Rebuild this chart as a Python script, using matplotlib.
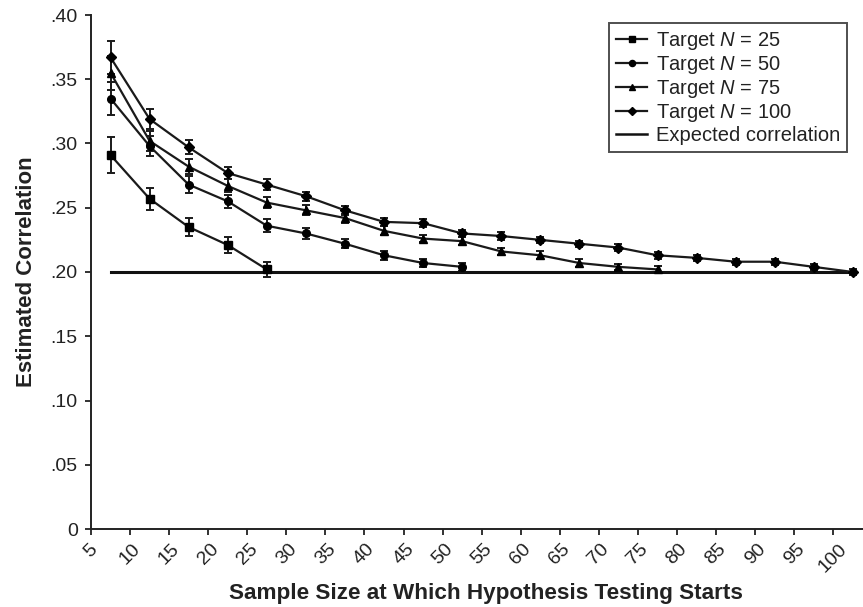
import matplotlib
matplotlib.use("Agg")
import matplotlib.pyplot as plt
from matplotlib.lines import Line2D
import matplotlib.transforms as mtransforms
import numpy as np

plt.rcParams['font.family'] = ['Liberation Sans', 'DejaVu Sans']
plt.rcParams['mathtext.fontset'] = 'custom'
plt.rcParams['mathtext.it'] = 'Liberation Sans:italic'
plt.rcParams['mathtext.rm'] = 'Liberation Sans'

# ---- data ----
categories = ["5", "10", "15", "20", "25", "30", "35", "40", "45", "50",
              "55", "60", "65", "70", "75", "80", "85", "90", "95", "100"]

n25 = [0.291, 0.257, 0.235, 0.221, 0.202]
n25_err = [0.014, 0.0087, 0.007, 0.006, 0.006]

n50 = [0.335, 0.298, 0.268, 0.255, 0.236, 0.230, 0.222, 0.213, 0.207, 0.204]
n50_err = [0.013, 0.0075, 0.0065, 0.0052, 0.0052, 0.004, 0.0035, 0.0035, 0.003, 0.003]

n75 = [0.355, 0.302, 0.282, 0.267, 0.254, 0.248, 0.242, 0.232, 0.226, 0.224,
       0.216, 0.213, 0.207, 0.204, 0.202]
n75_err = [0.013, 0.0075, 0.006, 0.005, 0.0045, 0.004, 0.0035, 0.0035, 0.003, 0.003,
           0.003, 0.003, 0.003, 0.0025, 0.0025]

n100 = [0.367, 0.319, 0.297, 0.277, 0.268, 0.259, 0.248, 0.239, 0.238, 0.230,
        0.228, 0.225, 0.222, 0.219, 0.213, 0.211, 0.208, 0.208, 0.204, 0.200]
n100_err = [0.013, 0.0075, 0.0055, 0.0045, 0.004, 0.0035, 0.0035, 0.003, 0.003, 0.003,
            0.003, 0.0025, 0.0025, 0.0025, 0.0025, 0.0025, 0.0025, 0.0025, 0.0025, 0.0025]

expected = 0.20

series = [
    ("Target $\\mathit{N}$ = 25", n25, n25_err, 's'),
    ("Target $\\mathit{N}$ = 50", n50, n50_err, 'o'),
    ("Target $\\mathit{N}$ = 75", n75, n75_err, '^'),
    ("Target $\\mathit{N}$ = 100", n100, n100_err, 'D'),
]

W, H = 863, 607
fig = plt.figure(figsize=(W / 100, H / 100), dpi=100)
ax = fig.add_axes([91 / W, 1 - 529 / H, 1 - 91 / W, (529 - 15) / H])

line_color = '#1a1a1a'
sizes = {'s': 6, 'o': 5.5, '^': 6, 'D': 4.8}
handles = []
for label, vals, errs, mk in series:
    x = np.arange(len(vals))
    ms = sizes[mk]
    ax.errorbar(x, vals, yerr=errs, fmt='-', marker=mk, color=line_color,
                mfc='black', mec='black', ms=ms, lw=1.6, elinewidth=1.4,
                capsize=3.2, capthick=1.4)
    handles.append(Line2D([], [], color=line_color, lw=1.6, marker=mk,
                          mfc='black', mec='black', ms=ms * 0.8, label=label))

xe = np.arange(len(categories))
ax.plot(xe, [expected] * len(categories), color='#111111', lw=2.2)
handles.append(Line2D([], [], color='#111111', lw=1.8, label='Expected correlation'))

ax.set_ylim(0, 0.40)
ax.set_xlim(-0.5, -0.5 + (W - 91) / 39.07)
yt = np.arange(0, 0.401, 0.05)
ax.set_yticks(yt)
ax.set_yticklabels(['0' if v == 0 else ('%.2f' % v)[1:] for v in yt])
ax.set_xticks(np.arange(len(categories)) - 0.5)
ax.set_xticklabels(categories, rotation=45, ha='center')
offset = mtransforms.ScaledTranslation(5 / 100, 0, fig.dpi_scale_trans)
for lbl in ax.get_xticklabels():
    lbl.set_transform(lbl.get_transform() + offset)

for s in ('top', 'right'):
    ax.spines[s].set_visible(False)
for s in ('left', 'bottom'):
    ax.spines[s].set_linewidth(1.4)
    ax.spines[s].set_color('#222222')
ax.tick_params(axis='both', direction='out', length=4.5, width=1.3,
               color='#222222', labelsize=14, labelcolor='#222222')
ax.tick_params(axis='x', pad=4)
ax.tick_params(axis='y', pad=5)

ax.set_xlabel('Sample Size at Which Hypothesis Testing Starts', fontsize=16.2,
              fontweight='bold', color='#222222', labelpad=3)
ax.xaxis.set_label_coords((486 - 91) / (W - 91), -0.105)
ax.set_ylabel('Estimated Correlation', fontsize=16, fontweight='bold',
              color='#222222', labelpad=10)

leg = ax.legend(handles=handles, loc='upper right',
                bbox_to_anchor=(847 / W, 1 - 23 / H),
                bbox_transform=fig.transFigure, borderaxespad=0,
                fontsize=14.5, frameon=True, fancybox=False, handlelength=1.5,
                handletextpad=0.45, labelspacing=0.1, borderpad=0.35)
leg.get_frame().set_edgecolor('#222222')
leg.get_frame().set_linewidth(1.4)
for t in leg.get_texts():
    t.set_color('#222222')

fig.savefig('out.png', dpi=100)
